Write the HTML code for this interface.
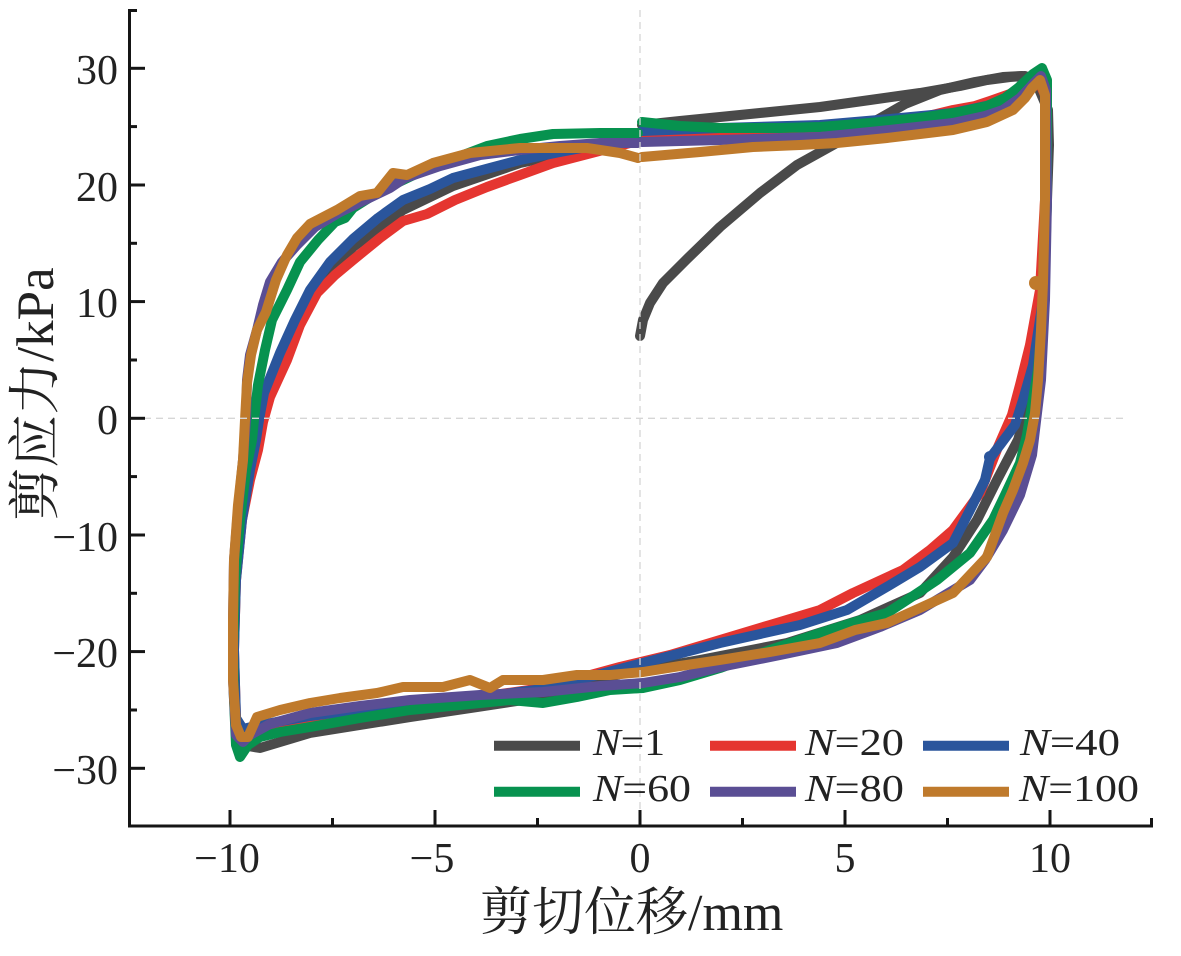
<!DOCTYPE html>
<html><head><meta charset="utf-8"><style>
html,body{margin:0;padding:0;background:#fff;}
svg{display:block;}
</style></head><body>
<svg width="1181" height="956" viewBox="0 0 1181 956" xmlns="http://www.w3.org/2000/svg">
<rect width="1181" height="956" fill="#fff"/>
<g fill="none" stroke-width="10" stroke-linejoin="round" stroke-linecap="round">
<polyline stroke="#4a4a4a" points="640,336 643,320 650,303 663,283 687,259 720,227 760,193 797,165 833,145 870,124 905,104 940,90 975,82 1003,77 1022,76 1036,82 1048,110 1049,145 1047,200 1044,280 1038,350 1030,400 1018,440 997,480 977,520 953,557 920,593 860,620 787,643 700,660 620,674 543,697 477,707 410,717 360,725 310,733 280,742 260,748 248,746 238,735 234,700 233,650 235,580 240,520 247,470 256,440 261,420 270,390 285,350 310,297 353,247 403,210 453,186 520,163 580,150 638,141"/>
<polyline stroke="#4a4a4a" points="642,125 680,121 720,117 780,111 820,107 870,100 920,93 960,86 987,80 1010,77 1025,76 1035,80"/>
<polyline stroke="#e53530" points="642,136 720,133 820,129 880,124 920,118 953,110 975,106 990,101 1010,94 1025,86 1038,79 1045,95 1045,200 1040,290 1030,345 1020,385 1012,415 998,447 980,493 953,530 930,550 903,570 853,593 820,610 770,625 720,640 670,655 620,667 543,688 480,697 410,703 310,718 260,727 243,732 236,720 234,650 236,580 242,520 250,480 258,450 263,422 270,397 287,360 300,325 317,293 335,275 353,260 380,238 403,221 427,214 455,200 487,187 520,175 553,163 603,150 638,141"/>
<polyline stroke="#2a559c" points="642,131 720,128 820,125 890,119 953,113 1000,103 1020,95 1032,85 1040,77 1046,92 1046,200 1043,300 1033,365 1023,400 1015,425 1000,445 990,458 985,480 970,510 953,543 920,567 890,585 847,610 800,625 720,643 620,669 543,689 480,697 410,703 310,716 260,725 243,729 236,718 234,650 236,580 242,520 250,470 256,440 259,420 264,393 280,353 295,320 310,290 330,262 353,239 378,218 403,200 430,189 453,178 490,168 520,160 560,152 587,147 638,141"/>
<circle cx="990" cy="457" r="6" fill="#2a559c" stroke="none"/>
<polyline stroke="#07924f" points="642,122 680,126 720,128 780,128 820,127 870,123 920,118 960,112 987,106 1005,98 1018,88 1033,74 1042,68 1047,80 1047,200 1044,300 1038,370 1032,405 1027,435 1020,463 1005,495 993,520 970,553 937,580 910,598 887,613 855,622 820,633 770,650 720,668 680,680 643,688 610,690 577,697 543,703 510,700 480,703 410,710 360,718 310,727 280,732 260,737 248,745 240,757 236,745 234,700 233,650 235,580 240,520 246,470 252,440 254,420 258,385 265,350 272,320 287,290 300,262 318,240 335,222 345,218 353,208 380,191 420,172 450,160 487,146 520,139 553,134 600,133 638,133"/>
<polyline stroke="#5a4e94" points="642,142 720,140 820,137 880,131 953,123 985,116 1003,110 1020,98 1033,84 1041,76 1046,90 1047,200 1045,300 1041,380 1037,413 1032,455 1020,495 1003,530 985,560 970,580 940,598 920,610 880,627 837,643 780,655 720,667 680,677 643,683 600,686 543,692 480,695 410,700 360,706 310,713 270,724 250,735 243,742 236,735 233,680 233,620 234,560 238,510 243,460 246,420 247,380 250,355 257,330 263,305 270,282 282,262 297,245 315,227 340,212 365,200 390,188 405,178 440,166 480,155 520,150 560,146 600,143 638,143"/>
<polyline stroke="#bf7a2c" points="642,157 700,152 753,147 800,145 837,143 887,138 920,134 953,130 987,122 1013,110 1025,98 1032,88 1040,80 1045,95 1045,200 1043,283 1041,330 1038,380 1035,413 1030,440 1023,463 1013,490 1003,513 995,535 987,557 970,575 953,593 920,608 887,623 855,630 820,643 770,652 720,660 680,666 643,672 610,675 577,675 543,680 503,680 490,688 470,680 443,687 403,687 377,693 340,698 310,703 280,710 257,717 248,737 241,737 236,725 233,680 233,620 234,560 238,505 243,460 245,420 247,383 251,355 257,330 266,312 276,280 287,255 297,238 310,224 337,210 360,196 377,193 393,173 407,175 433,163 470,153 520,148 587,148 620,153 638,158"/>
<circle cx="1036" cy="283" r="7" fill="#bf7a2c" stroke="none"/>
</g>
<line x1="640" y1="10" x2="640" y2="824" stroke="#d6d6d6" stroke-width="1.3" stroke-dasharray="7,5"/>
<line x1="132" y1="418.3" x2="1126" y2="418.3" stroke="#d6d6d6" stroke-width="1.3" stroke-dasharray="7,5"/>
<g stroke="#151515" stroke-width="3" fill="none">
<line x1="129.5" y1="9" x2="129.5" y2="827.5"/>
<line x1="128" y1="826" x2="1153" y2="826"/>
<line x1="129" y1="68.3" x2="145" y2="68.3"/>
<line x1="129" y1="185" x2="145" y2="185"/>
<line x1="129" y1="301.6" x2="145" y2="301.6"/>
<line x1="129" y1="418.3" x2="145" y2="418.3"/>
<line x1="129" y1="535" x2="145" y2="535"/>
<line x1="129" y1="651.6" x2="145" y2="651.6"/>
<line x1="129" y1="768.3" x2="145" y2="768.3"/>
<line x1="129" y1="10.5" x2="137" y2="10.5"/>
<line x1="129" y1="126.6" x2="137" y2="126.6"/>
<line x1="129" y1="243.3" x2="137" y2="243.3"/>
<line x1="129" y1="360" x2="137" y2="360"/>
<line x1="129" y1="476.6" x2="137" y2="476.6"/>
<line x1="129" y1="593.3" x2="137" y2="593.3"/>
<line x1="129" y1="710" x2="137" y2="710"/>
<line x1="230" y1="826" x2="230" y2="810"/>
<line x1="435" y1="826" x2="435" y2="810"/>
<line x1="640" y1="826" x2="640" y2="810"/>
<line x1="845" y1="826" x2="845" y2="810"/>
<line x1="1050" y1="826" x2="1050" y2="810"/>
<line x1="332.5" y1="826" x2="332.5" y2="818"/>
<line x1="537.5" y1="826" x2="537.5" y2="818"/>
<line x1="742.5" y1="826" x2="742.5" y2="818"/>
<line x1="947.5" y1="826" x2="947.5" y2="818"/>
<line x1="1151.5" y1="827.5" x2="1151.5" y2="818"/>
</g>
<g font-family="'Liberation Serif', serif" font-size="42" fill="#222">
<g text-anchor="end">
<text x="118" y="84">30</text>
<text x="118" y="201">20</text>
<text x="118" y="317">10</text>
<text x="118" y="434">0</text>
<text x="118" y="551">−10</text>
<text x="118" y="667">−20</text>
<text x="118" y="784">−30</text>
</g>
<g text-anchor="middle">
<text x="227" y="872">−10</text>
<text x="432" y="872">−5</text>
<text x="640" y="872">0</text>
<text x="845" y="872">5</text>
<text x="1050" y="872">10</text>
</g>
</g>
<text x="480" y="930" font-family="'Liberation Serif','Noto Serif CJK SC',serif" font-size="52" fill="#222">剪切位移/mm</text>
<text transform="translate(53,394) rotate(-90)" text-anchor="middle" font-family="'Liberation Serif','Noto Serif CJK SC',serif" font-size="53" fill="#222">剪应力/kPa</text>
<g stroke-width="10" fill="none">
<line x1="494" y1="745.7" x2="580" y2="745.7" stroke="#4a4a4a"/>
<line x1="710" y1="745.7" x2="796" y2="745.7" stroke="#e53530"/>
<line x1="923" y1="745.7" x2="1009" y2="745.7" stroke="#2a559c"/>
<line x1="494" y1="791.7" x2="580" y2="791.7" stroke="#07924f"/>
<line x1="710" y1="791.7" x2="796" y2="791.7" stroke="#5a4e94"/>
<line x1="923" y1="791.7" x2="1009" y2="791.7" stroke="#bf7a2c"/>
</g>
<g font-family="'Liberation Serif', serif" font-size="38" fill="#222">
<text x="593" y="755" textLength="72" lengthAdjust="spacingAndGlyphs"><tspan font-style="italic">N</tspan>=1</text>
<text x="805" y="755" textLength="99" lengthAdjust="spacingAndGlyphs"><tspan font-style="italic">N</tspan>=20</text>
<text x="1020" y="755" textLength="100" lengthAdjust="spacingAndGlyphs"><tspan font-style="italic">N</tspan>=40</text>
<text x="593" y="801" textLength="98" lengthAdjust="spacingAndGlyphs"><tspan font-style="italic">N</tspan>=60</text>
<text x="805" y="801" textLength="99" lengthAdjust="spacingAndGlyphs"><tspan font-style="italic">N</tspan>=80</text>
<text x="1019" y="801" textLength="120" lengthAdjust="spacingAndGlyphs"><tspan font-style="italic">N</tspan>=100</text>
</g>
</svg>
</body></html>
